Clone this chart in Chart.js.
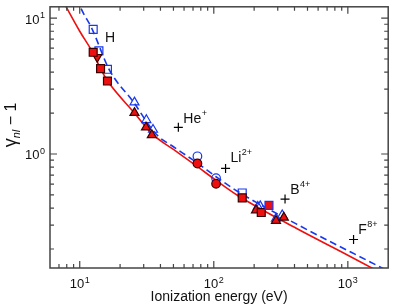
<!DOCTYPE html>
<html>
<head>
<meta charset="utf-8">
<script src="https://cdn.jsdelivr.net/npm/chart.js@4/dist/chart.umd.min.js"></script>
<style>
html,body{margin:0;padding:0;background:#fff}
#wrap{width:395px;height:308px}
</style>
</head>
<body>
<div id="wrap"><canvas id="c"></canvas></div>
<script>
// ionization energy (eV), gamma_nl - 1
const redCurve = [[7.3,14],[10,8.0],[12.6,5.5],[14.4,4.18],[16.3,3.40],[25.5,2.01],[34.8,1.40],[50,1.08],[76.4,0.80],[104,0.64],[150,0.497],[412,0.284],[1000,0.18],[2100,0.122]]
const blueCurve = [[9.6,14],[10.1,12.1],[12.3,8.4],[16.7,4.13],[25.5,2.37],[33.8,1.566],[38.9,1.34],[50,1.13],[76.4,0.85],[104,0.68],[150,0.532],[412,0.306],[1799,0.145],[2100,0.134]]

const redSquares = [[12.6,5.6],[14.3,4.25],[16.1,3.44],[163,0.476],[226,0.371]]
const mixSquares = [[258,0.419]]
const redTriUp = [[25.6,2.01],[31.2,1.57],[34.5,1.38],[206.5,0.386],[291,0.323],[333,0.341]]
const redTriDown = [[13.5,5.16]]
const redCircles = [[75.5,0.851],[104,0.604]]
const blueSquares = [[12.6,8.26],[13.9,5.73],[16.1,4.2],[163,0.517]]
const blueTriUp = [[25.6,2.40],[31.4,1.78],[35.2,1.51],[213,0.41],[222,0.414],[291,0.335],[324,0.355]]
const blueCircles = [[75.5,0.962],[104,0.663]]
const ions = [[54.4,1.57],[122.4,0.783],[340,0.466],[1103,0.235]]

// label text, superscript, anchor (eV, value)
const ionLabels = [['H','',15.4,6.66],['He','+',59.3,1.70],['Li','2+',133,0.875],['B','4+',372,0.506],['F','8+',1194,0.26]]
const xTickLabels = [[10,'1'],[100,'2'],[1000,'3']]
const yTickLabels = [[1,'0'],[10,'1']]

const xy = arr => arr.map(p => ({x:p[0], y:p[1]}))
const RED = '#ee1010', BLUE = '#1838ee', EDGE = '#3a0000'
const FONT = '"Liberation Sans", Arial, sans-serif'

const marks = (data, style, fill, edge, r, rot, ord) => ({
    data: xy(data), pointStyle: style, pointRadius: r, pointRotation: rot || 0,
    pointBackgroundColor: fill, pointBorderColor: edge, pointBorderWidth: 1.2, order: ord
})

const frame = {
    id: 'frame',
    afterDraw(chart) {
        const {ctx, chartArea: a, scales: {x, y}} = chart
        ctx.save()
        ctx.strokeStyle = '#444'
        ctx.lineWidth = 1.5
        ctx.strokeRect(a.left, a.top, a.right - a.left, a.bottom - a.top)
        ctx.lineWidth = 1.2
        ctx.beginPath()
        for (let e = -1; e <= 3; e++) {
            for (let m = 1; m <= 9; m++) {
                const v = m * Math.pow(10, e), len = m === 1 ? 7 : 4
                if (v > x.min && v < x.max) {
                    const px = x.getPixelForValue(v)
                    ctx.moveTo(px, a.bottom); ctx.lineTo(px, a.bottom - len)
                    ctx.moveTo(px, a.top); ctx.lineTo(px, a.top + len)
                }
                if (v > y.min && v < y.max) {
                    const py = y.getPixelForValue(v)
                    ctx.moveTo(a.left, py); ctx.lineTo(a.left + len, py)
                    ctx.moveTo(a.right, py); ctx.lineTo(a.right - len, py)
                }
            }
        }
        ctx.stroke()

        ctx.fillStyle = '#111'
        ctx.textBaseline = 'alphabetic'
        ctx.textAlign = 'left'
        const sup = (base, exp, px, by, bigSize, smallSize, rise) => {
            ctx.font = bigSize + 'px ' + FONT
            const w1 = ctx.measureText(base).width
            ctx.fillText(base, px, by)
            ctx.font = smallSize + 'px ' + FONT
            ctx.fillText(exp, px + w1 + 0.5, by - rise)
        }
        const width = (base, exp, bigSize, smallSize) => {
            ctx.font = bigSize + 'px ' + FONT
            const w1 = ctx.measureText(base).width
            ctx.font = smallSize + 'px ' + FONT
            return w1 + 0.5 + ctx.measureText(exp).width
        }
        xTickLabels.forEach(([v, e]) => {
            const w = width('10', e, 13, 9)
            sup('10', e, x.getPixelForValue(v) - w / 2, a.bottom + 20, 13, 9, 5.5)
        })
        yTickLabels.forEach(([v, e]) => {
            const w = width('10', e, 13, 9)
            sup('10', e, a.left - 5 - w, y.getPixelForValue(v) + 5.5, 13, 9, 5.5)
        })
        ionLabels.forEach(([t, e, ev, val]) => {
            sup(t, e, x.getPixelForValue(ev), y.getPixelForValue(val), 14, 9, 7)
        })

        ctx.font = '14px ' + FONT
        ctx.textAlign = 'center'
        ctx.fillText('Ionization energy (eV)', (a.left + a.right) / 2, 301)

        // y title: gamma_nl - 1, rotated
        ctx.translate(16, 125)
        ctx.rotate(-Math.PI / 2)
        ctx.textAlign = 'left'
        const g = '18px ' + FONT, s = 'italic 11px ' + FONT, r = '16px ' + FONT
        ctx.font = g; const wg = ctx.measureText('\u03b3').width
        ctx.font = s; const ws = ctx.measureText('nl').width
        ctx.font = r; const wr = ctx.measureText(' \u2212 1').width
        let sx = -(wg + ws + wr) / 2
        ctx.font = g; ctx.fillText('\u03b3', sx, 0); sx += wg
        ctx.font = s; ctx.fillText('nl', sx, 4); sx += ws
        ctx.font = r; ctx.fillText(' \u2212 1', sx, 0)
        ctx.restore()
    }
}

new Chart(document.getElementById('c'), {
    type: 'scatter',
    data: {
        datasets: [
            marks(ions, 'cross', '#000', '#000', 4.5, 0, 0),
            marks(mixSquares, 'rect', RED, BLUE, 5.6, 0, 1),
            marks(redSquares, 'rect', RED, EDGE, 5.6, 0, 2),
            marks(redTriUp, 'triangle', RED, EDGE, 5.2, 0, 2),
            marks(redTriDown, 'triangle', RED, EDGE, 5.2, 180, 2),
            marks(redCircles, 'circle', RED, EDGE, 4.3, 0, 2),
            marks(blueSquares, 'rect', 'rgba(255,255,255,0)', BLUE, 5.6, 0, 3),
            marks(blueTriUp, 'triangle', 'rgba(255,255,255,0)', BLUE, 5.2, 0, 3),
            marks(blueCircles, 'circle', 'rgba(255,255,255,0)', BLUE, 4.3, 0, 3),
            {type: 'line', data: xy(redCurve), borderColor: RED, borderWidth: 1.6, pointRadius: 0,
             cubicInterpolationMode: 'monotone', fill: false, order: 4},
            {type: 'line', data: xy(blueCurve), borderColor: BLUE, borderWidth: 1.6, borderDash: [7, 4], pointRadius: 0,
             cubicInterpolationMode: 'monotone', fill: false, order: 4}
        ]
    },
    options: {
        responsive: true,
        maintainAspectRatio: false,
        animation: false,
        devicePixelRatio: 1,
        layout: {padding: {left: 50, right: 1, top: 2, bottom: 40}},
        plugins: {legend: {display: false}, tooltip: {enabled: false}},
        scales: {
            x: {type: 'logarithmic', min: 6, max: 2000, display: false},
            y: {type: 'logarithmic', min: 0.145, max: 12.1, display: false}
        }
    },
    plugins: [frame]
})
</script>
</body>
</html>
